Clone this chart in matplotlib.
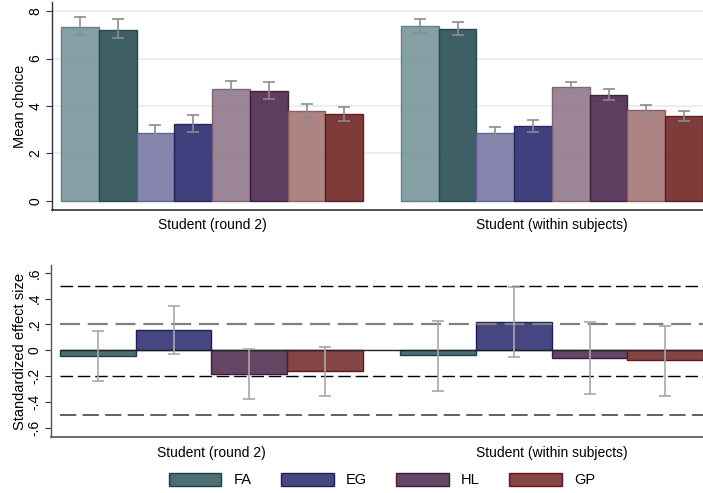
import matplotlib
matplotlib.use("Agg")
import matplotlib.pyplot as plt
from matplotlib.patches import Patch
import numpy as np

plt.rcParams['font.family'] = ['Liberation Sans', 'DejaVu Sans']

# ---- data ----
groups = ['Student (round 2)', 'Student (within subjects)']
games = ['FA', 'EG', 'HL', 'GP']

# top panel: mean choice, two bars per game (light, dark)
mean_choice = [
    [7.32, 7.22, 2.87, 3.25, 4.73, 4.64, 3.79, 3.67],
    [7.35, 7.25, 2.86, 3.14, 4.78, 4.46, 3.84, 3.57],
]
mean_lo = [
    [6.97, 6.85, 2.55, 2.92, 4.42, 4.31, 3.50, 3.38],
    [7.06, 6.97, 2.64, 2.90, 4.55, 4.26, 3.61, 3.38],
]
mean_hi = [
    [7.73, 7.67, 3.21, 3.63, 5.06, 5.00, 4.10, 3.97],
    [7.67, 7.54, 3.11, 3.42, 5.03, 4.73, 4.06, 3.79],
]

# bottom panel: standardized effect size
effect = [
    [-0.047, 0.155, -0.181, -0.163],
    [-0.039, 0.217, -0.057, -0.078],
]
effect_lo = [
    [-0.235, -0.031, -0.377, -0.354],
    [-0.313, -0.050, -0.336, -0.352],
]
effect_hi = [
    [0.147, 0.346, 0.010, 0.026],
    [0.227, 0.490, 0.219, 0.188],
]
ref_lines = [0.5, 0.2, -0.2, -0.5]
ref_colors = ['black', '#808080', 'black', '#555555']
ref_widths = [1.0, 1.6, 1.0, 1.3]

top_colors = ['#7f9aa0', '#34565f', '#7f7faa', '#353577',
              '#977f90', '#553255', '#a87d7c', '#76302f']
top_edges = ['#5f7c82', '#23444d', '#5f5f90', '#22225f',
             '#7a5f72', '#3d1f3d', '#8c5a5a', '#5c1a1a']
bot_colors = ['#4a6e73', '#464680', '#664665', '#854545']
bot_edges = ['#1f3f45', '#1e1e5e', '#3e1e3c', '#5e1818']

fs = 10
W, H = 703, 493
fig = plt.figure(figsize=(W / 100, H / 100), dpi=100)

# ---- top panel ----
ax1 = fig.add_axes([52 / W, 1 - 210 / H, (W - 52) / W, 208 / H])
for g in range(2):
    start = g * 9
    x = start + np.arange(8) + 0.5
    vals = np.array(mean_choice[g])
    ax1.bar(x, vals, width=1.0, color=top_colors, edgecolor=top_edges,
            linewidth=1.0, zorder=2, alpha=0.95)
    yerr = [vals - np.array(mean_lo[g]), np.array(mean_hi[g]) - vals]
    ax1.errorbar(x, vals, yerr=yerr, fmt='none', ecolor='#8c8c8c',
                 elinewidth=1.2, capsize=4, capthick=1.2, zorder=3)
ax1.set_ylim(-0.38, 8.38)
ax1.set_xlim(-0.24, 17.0)
ax1.set_yticks([0, 2, 4, 6, 8])
ax1.set_yticklabels(['0', '2', '4', '6', '8'], rotation=90, va='center', fontsize=fs)
ax1.set_ylabel('Mean choice', fontsize=10.5, labelpad=1)
ax1.set_xticks([4, 13])
ax1.set_xticklabels(groups, fontsize=fs)
ax1.tick_params(axis='x', length=0, pad=6)
ax1.tick_params(axis='y', length=4, width=0.8, color='#333333', pad=3)
for y in [2, 4, 6, 8]:
    ax1.axhline(y, color='#e4eeee', lw=1.2, zorder=1)
ax1.spines['top'].set_visible(False)
ax1.spines['right'].set_visible(False)
ax1.spines['left'].set_color('#333333')
ax1.spines['bottom'].set_color('#333333')
ax1.spines['left'].set_linewidth(1.0)
ax1.spines['bottom'].set_linewidth(1.2)

# ---- bottom panel ----
ax2 = fig.add_axes([51 / W, 1 - 437.3 / H, (W - 51) / W, 172.3 / H])
for g in range(2):
    start = g * 9
    x = start + np.arange(4) * 2 + 1.0
    vals = np.array(effect[g])
    ax2.bar(x, vals, width=2.0, color=bot_colors, edgecolor=bot_edges,
            linewidth=1.0, zorder=2)
    yerr = [vals - np.array(effect_lo[g]), np.array(effect_hi[g]) - vals]
    ax2.errorbar(x, vals, yerr=yerr, fmt='none', ecolor='#a8a8a8',
                 elinewidth=1.2, capsize=4, capthick=1.2, zorder=4)
for y, c, lw in zip(ref_lines, ref_colors, ref_widths):
    ax2.hlines(y, 0, 17.0, colors=c, linewidth=lw, linestyles=(0, (9, 3.5)), zorder=3)
ax2.hlines(0, 0, 17.0, colors='#222222', linewidth=1.0, zorder=3)
ax2.set_ylim(-0.674, 0.661)
ax2.set_xlim(-0.24, 17.0)
yt = [-0.6, -0.4, -0.2, 0, 0.2, 0.4, 0.6]
ax2.set_yticks(yt)
ax2.set_yticklabels(['-.6', '-.4', '-.2', '0', '.2', '.4', '.6'],
                    rotation=90, va='center', fontsize=fs)
ax2.set_ylabel('Standardized effect size', fontsize=10.5, labelpad=0)
ax2.set_xticks([4, 13])
ax2.set_xticklabels(groups, fontsize=fs)
ax2.tick_params(axis='x', length=0, pad=6)
ax2.tick_params(axis='y', length=4, width=0.8, color='#333333', pad=3)
ax2.spines['top'].set_visible(False)
ax2.spines['right'].set_visible(False)
ax2.spines['left'].set_color('#555555')
ax2.spines['bottom'].set_color('#555555')
ax2.spines['left'].set_linewidth(1.0)
ax2.spines['bottom'].set_linewidth(1.2)

# ---- legend ----
handles = [Patch(facecolor=c, edgecolor=e, linewidth=1.0)
           for c, e in zip(bot_colors, bot_edges)]
fig.legend(handles, games, loc='center', bbox_to_anchor=(382 / W, 1 - 480 / H),
           ncol=4, frameon=False, fontsize=10.5, handlelength=3.6, handleheight=1.0,
           handletextpad=0.85, columnspacing=2.0)

fig.savefig('out.png', dpi=100)
